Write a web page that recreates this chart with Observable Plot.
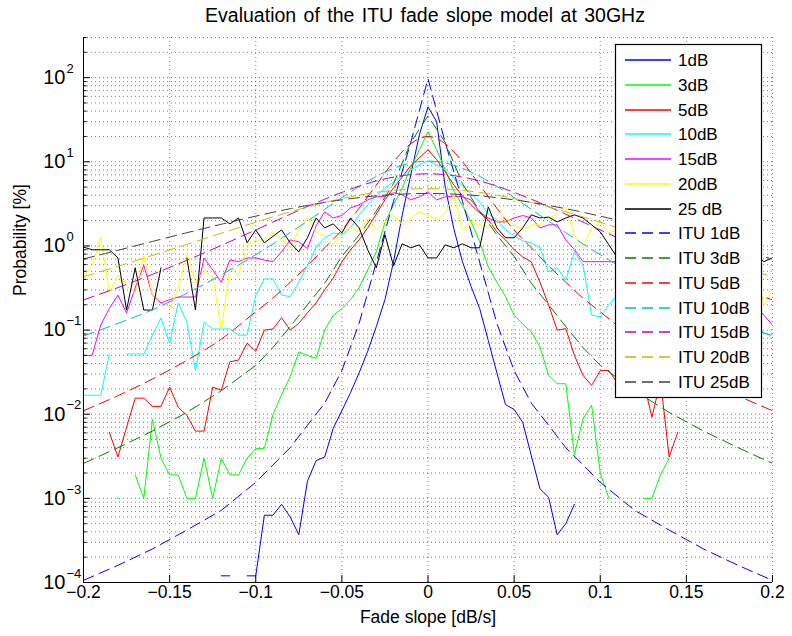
<!DOCTYPE html>
<html><head><meta charset="utf-8">
<script src="https://cdn.jsdelivr.net/npm/d3@7"></script>
<script src="https://cdn.jsdelivr.net/npm/@observablehq/plot@0.6"></script>
<style>
body{margin:0;background:#fff;font-family:"Liberation Sans",Arial,sans-serif;}
#wrap{position:relative;width:792px;height:636px;background:#fff;overflow:hidden}
#title{position:absolute;left:425px;top:0;transform:translateX(-50%);white-space:nowrap;font-size:19.5px;word-spacing:2px;line-height:30px;height:30px;padding-top:0px;color:#000}
#chart{position:absolute;left:0;top:30px}
</style></head><body>
<div id="wrap"><div id="title">Evaluation of the ITU fade slope model at 30GHz</div><div id="chart"></div></div>
<script>
// ---- measured fade-slope distributions (x step 0.005 dB/s), probability in %
const X = [-0.2,-0.195,-0.19,-0.185,-0.18,-0.175,-0.17,-0.165,-0.16,-0.155,
-0.15,-0.145,-0.14,-0.135,-0.13,-0.125,-0.12,-0.115,-0.11,-0.105,
-0.1,-0.095,-0.09,-0.085,-0.08,-0.075,-0.07,-0.065,-0.06,-0.055,
-0.05,-0.045,-0.04,-0.035,-0.03,-0.025,-0.02,-0.015,-0.01,-0.005,
0,
0.005,0.01,0.015,0.02,0.025,0.03,0.035,0.04,0.045,0.05,
0.055,0.06,0.065,0.07,0.075,0.08,0.085,0.09,0.095,0.1,
0.105,0.11,0.115,0.12,0.125,0.13,0.135,0.14,0.145,0.15,
0.155,0.16,0.165,0.17,0.175,0.18,0.185,0.19,0.195,0.2];

const M1 = [null,null,null,null,null,null,null,null,null,null,
null,null,null,null,null,null,1.2e-4,1.2e-4,null,1.2e-4,
1.2e-4,6.3e-4,6.3e-4,8.5e-4,6e-4,3.7e-4,1.6e-3,2.8e-3,3.1e-3,6.8e-3,
0.011,0.018,0.031,0.056,0.11,0.23,0.65,2.3,7,21,
45,
30,5,1.6,0.65,0.33,0.18,0.075,0.031,0.013,0.0114,
0.008,0.0032,0.0013,0.00103,0.00037,0.0005,0.00085,null,null,null,
null,null,null,null,null,null,null,null,null,null,
null,null,null,null,null,null,null,null,null,null];

const M3 = [null,null,null,null,0.001,null,0.0019,0.001,0.0087,0.003,
0.0019,0.0019,0.001,0.001,0.003,0.001,0.003,0.0019,0.0019,0.003,
0.0039,0.0039,0.0099,0.017,0.028,0.055,0.05,0.046,0.1,0.15,
0.18,0.23,0.32,0.52,0.85,1.9,3.1,4.9,8.5,13.9,
22.8,
13.9,8.0,4.5,3.0,1.93,1.12,0.56,0.37,0.25,0.15,
0.118,0.095,0.063,0.029,0.023,0.023,0.0033,0.0089,0.0128,0.002,
0.001,null,null,null,0.001,0.001,0.0019,0.003,null,null,
null,null,null,null,null,null,null,null,null,null];

const M5 = [null,null,null,0.0061,0.0031,0.007,0.0155,0.0155,0.0124,0.0124,
0.021,0.0121,0.0097,0.0063,0.0063,0.021,0.0193,0.042,0.044,0.07,
0.056,0.1,0.103,0.14,0.1,0.12,0.16,0.21,0.3,0.416,
0.645,0.9,1.18,1.64,2.4,3.53,4.9,6.6,9.0,11.2,
13.9,
10.6,7.6,5.3,3.94,3.08,2.47,2.04,1.47,1.18,0.9,
0.74,0.645,0.37,0.2,0.1,0.104,0.05,0.029,0.022,0.033,
0.033,0.0234,0.04,0.03,0.025,0.0092,0.025,0.0031,0.0061,null,
null,null,null,null,null,null,null,null,null,null];

const M10 = [0.0168,0.0168,0.0168,0.052,null,0.052,0.052,0.052,0.087,0.139,
0.07,0.21,0.124,0.033,0.124,0.103,0.103,0.103,0.087,0.087,
0.26,0.405,0.405,0.26,0.25,0.37,0.58,0.97,1.25,1.43,
1.36,1.64,2.34,3.08,3.9,4.9,5.78,6.8,8.0,9.2,
10.3,
9.2,8.0,6.45,5.18,4.16,3.34,2.4,2.04,1.55,1.32,
1.15,1.09,0.95,0.49,0.55,0.39,0.85,0.59,0.151,0.143,
0.2,0.26,0.3,0.35,0.3,0.25,0.3,0.2,0.25,0.3,
0.2,0.25,0.15,0.2,0.12,0.15,0.1,0.12,0.092,0.087];

const M15 = [0.05,0.05,0.115,0.18,0.26,0.16,0.316,0.59,0.26,0.21,
0.23,0.247,0.247,0.247,0.72,0.52,0.37,0.68,0.65,0.72,
0.72,0.68,0.65,0.85,1.18,1.12,0.93,1.73,2.54,2.15,
2.3,2.83,3.08,3.53,3.83,3.9,4.28,4.05,3.53,3.83,
4.4,
3.53,3.83,3.9,3.83,3.53,2.54,2.15,1.93,1.93,2.15,
2.3,2.15,1.64,1.78,1.78,1.18,0.9,0.65,0.65,0.65,
0.65,0.65,0.5,0.55,0.45,0.5,0.4,0.45,0.35,0.4,
0.3,0.35,0.3,0.25,0.3,0.2,0.25,0.2,0.15,0.115];

const M20 = [0.43,0.59,1.28,0.28,0.45,0.34,0.27,0.78,0.26,0.23,
0.18,0.316,0.82,0.36,0.52,0.43,0.1,0.55,0.45,1.03,
1.18,1.18,1.47,1.18,0.97,1.55,2.21,1.47,1.32,1.03,
1.47,1.64,1.47,2.15,1.55,1.93,2.34,1.78,2.15,2.54,
2.34,
2.04,2.47,4.05,1.55,1.93,1.78,1.7,1.93,2.15,1.78,
1.55,1.78,1.78,2.15,2.34,2.91,1.35,0.95,1.64,1.93,
1.43,1.55,1.2,1.4,1.0,1.3,0.9,1.1,0.8,1.0,
0.7,0.9,0.6,0.8,0.5,0.7,0.5,0.6,0.2,0.3];

const M25 = [0.97,0.9,0.9,0.9,0.72,0.173,0.55,0.173,0.173,0.55,
null,null,0.72,0.173,2.15,2.15,2.15,1.83,2.15,1.09,
1.55,1.09,1.3,1.55,1.09,0.85,1.25,2.15,1.64,1.83,
1.43,2.15,1.64,0.9,0.55,1.36,0.58,1.06,0.95,1.03,
0.72,
0.72,1.03,0.95,1.06,0.95,0.95,2.91,1.64,1.25,1.25,
1.64,2.34,2.15,2.2,1.93,2.15,2.34,2.15,1.78,1.47,
1.03,0.72,1.2,1.5,1.0,1.3,1.1,1.4,0.9,1.2,
1.0,1.1,0.8,1.0,0.9,0.8,0.7,0.8,0.65,0.72];

// ---- ITU model curves
const ITU_X = [-0.2,-0.18,-0.16,-0.14,-0.12,-0.1,-0.09,-0.08,-0.07,-0.06,-0.05,-0.04,-0.03,-0.02,-0.01,
0,0.01,0.02,0.03,0.04,0.05,0.06,0.07,0.08,0.09,0.1,0.12,0.14,0.16,0.18,0.2];
const ITU1 = [1.06e-4,1.6e-4,2.5e-4,4.2e-4,7.2e-4,1.55e-3,2.5e-3,4.0e-3,7.4e-3,0.0135,0.033,0.12,0.64,3.4,17,
97,17,3.4,0.64,0.12,0.033,0.0135,7.4e-3,4.0e-3,2.5e-3,1.55e-3,7.2e-4,4.2e-4,2.5e-4,1.6e-4,1.06e-4];
const ITU3 = [0.0026,0.004,0.0063,0.0105,0.019,0.038,0.062,0.11,0.2,0.36,0.75,1.35,2.6,5.5,17,
35,17,5.5,2.6,1.35,0.75,0.36,0.2,0.11,0.062,0.038,0.019,0.0105,0.0063,0.004,0.0026];
const ITU5 = [0.011,0.0166,0.0262,0.0437,0.078,0.165,0.24,0.37,0.58,0.95,1.54,2.8,5.3,10,16.4,
20,16.4,10,5.3,2.8,1.54,0.95,0.58,0.37,0.24,0.165,0.078,0.0437,0.0262,0.0166,0.011];
const ITU10 = [0.085,0.12,0.174,0.274,0.453,0.786,1.057,1.44,1.97,2.72,3.75,5.09,6.7,8.37,9.69,
10.2,9.69,8.37,6.7,5.09,3.75,2.72,1.97,1.44,1.057,0.786,0.453,0.274,0.174,0.12,0.085];
const ITU15 = [0.228,0.32,0.459,0.675,1.014,1.55,1.92,2.38,2.94,3.59,4.33,5.13,5.91,6.58,7.04,
7.2,7.04,6.58,5.91,5.13,4.33,3.59,2.94,2.38,1.92,1.55,1.014,0.675,0.459,0.32,0.228];
const ITU20 = [0.43,0.573,0.77,1.042,1.415,1.91,2.21,2.54,2.9,3.28,3.65,4.01,4.33,4.58,4.74,
4.8,4.74,4.58,4.33,4.01,3.65,3.28,2.9,2.54,2.21,1.91,1.415,1.042,0.77,0.573,0.43];
const ITU25 = [0.7,0.888,1.13,1.435,1.81,2.26,2.51,2.77,3.03,3.29,3.53,3.75,3.94,4.08,4.17,
4.2,4.17,4.08,3.94,3.75,3.53,3.29,3.03,2.77,2.51,2.26,1.81,1.435,1.13,0.888,0.7];

// ---- labels, ticks, colours
const LEGEND_LABELS = ["1dB","3dB","5dB","10dB","15dB","20dB","25 dB","ITU 1dB","ITU 3dB","ITU 5dB","ITU 10dB","ITU 15dB","ITU 20dB","ITU 25dB"];
const MEAS_COLORS = ["#0000ff","#00ff00","#ff0000","#00ffff","#ff00ff","#ffff00","#000000"];
const ITU_COLORS = ["#0000ff","#008000","#ff0000","#00bfbf","#bf00bf","#bfbf00","#404040"];
const X_TICKS = [-0.2,-0.15,-0.1,-0.05,0,0.05,0.1,0.15,0.2];
const X_TICK_LABELS = ["\u22120.2","\u22120.15","\u22120.1","\u22120.05","0","0.05","0.1","0.15","0.2"];
const Y_TICKS = [1e-4,1e-3,1e-2,1e-1,1,10,100];
const Y_TICK_EXP = ["\u22124","\u22123","\u22122","\u22121","0","1","2"];
const Y_TOP = 300;

const MEAS = [M1,M3,M5,M10,M15,M20,M25];
const ITU = [ITU1,ITU3,ITU5,ITU10,ITU15,ITU20,ITU25];

const yMinor = [];
Y_TICKS.forEach(d => { for (let k = 2; k <= 9; k++) { const v = d * k; if (v <= Y_TOP * 1.0001) yMinor.push(v); } });
const DASH = "11,6";
const FONT = "'Liberation Sans', Arial, Helvetica, sans-serif";

const marks = [];
// grid
marks.push(Plot.ruleY(yMinor.concat(Y_TICKS.slice(1)), {stroke: "#000", strokeOpacity: 0.5, strokeDasharray: "1,3"}));
marks.push(Plot.ruleX(X_TICKS.slice(1), {stroke: "#000", strokeOpacity: 0.5, strokeDasharray: "1,3"}));
// measured
MEAS.forEach((arr, s) => {
  const pts = X.map((x, i) => ({x, y: arr[i]}));
  marks.push(Plot.line(pts, {x: "x", y: "y", stroke: MEAS_COLORS[s], strokeWidth: 1, clip: true}));
  const iso = pts.filter((p, i) => p.y != null && (i === 0 || arr[i-1] == null) && (i === arr.length-1 || arr[i+1] == null));
  if (iso.length) marks.push(Plot.dot(iso, {x: "x", y: "y", r: 0.8, fill: MEAS_COLORS[s], stroke: null, clip: true}));
});
// ITU model
ITU.forEach((arr, s) => {
  const pts = ITU_X.map((x, i) => ({x, y: arr[i]}));
  marks.push(Plot.line(pts, {x: "x", y: "y", stroke: ITU_COLORS[s], strokeWidth: 1, strokeDasharray: DASH, curve: s < 2 ? "linear" : "monotone-x", clip: true}));
});
// axes
marks.push(Plot.ruleX([-0.2], {stroke: "#000"}));
marks.push(Plot.ruleY([1e-4], {stroke: "#000"}));
marks.push(Plot.axisX({ticks: X_TICKS, tickSize: -7, tickFormat: () => "", label: null}));
marks.push(Plot.axisY({ticks: Y_TICKS, tickSize: -7, tickFormat: () => "", label: null}));
marks.push(Plot.axisY({ticks: yMinor, tickSize: -3.5, tickFormat: () => "", label: null}));
marks.push(Plot.text(X_TICKS, {x: d => d, text: (d, i) => X_TICK_LABELS[i], frameAnchor: "bottom", dy: 15, fontSize: 17.5}));
marks.push(Plot.text(Y_TICKS, {y: d => d, text: () => "10", frameAnchor: "left", textAnchor: "end", dx: -18, fontSize: 20}));
marks.push(Plot.text(Y_TICKS, {y: d => d, text: (d, i) => Y_TICK_EXP[i], frameAnchor: "left", textAnchor: "start", dx: -17, dy: -9, fontSize: 13}));
marks.push(Plot.text(["Fade slope [dB/s]"], {text: d => d, frameAnchor: "bottom", dy: 40, fontSize: 17.5}));
marks.push(Plot.text(["Probability [%]"], {text: d => d, frameAnchor: "left", rotate: -90, dx: -63, dy: -14, fontSize: 17.5}));

const chart = Plot.plot({
  width: 792, height: 606,
  marginTop: 7, marginBottom: 54, marginLeft: 83, marginRight: 20,
  x: {type: "linear", domain: [-0.2, 0.2]},
  y: {type: "log", domain: [1e-4, Y_TOP]},
  style: {fontFamily: FONT, fontSize: "17px", background: "white", overflow: "visible", color: "#000"},
  marks
});

// legend box
const svg = d3.select(chart);
const lg = svg.append("g").attr("font-family", FONT).attr("font-size", 17).attr("fill", "#000").attr("text-anchor", "start");
lg.append("rect").attr("x", 615.5).attr("y", 14.5).attr("width", 146).attr("height", 353)
  .attr("fill", "#fff").attr("stroke", "#000").attr("stroke-width", 1.2);
LEGEND_LABELS.forEach((lab, k) => {
  const y = Math.round(30 + 24.75 * k);
  const meas = k < 7;
  const color = meas ? MEAS_COLORS[k] : ITU_COLORS[k - 7];
  const ln = lg.append("line").attr("x1", 625).attr("x2", 671).attr("y1", y).attr("y2", y)
    .attr("stroke", color).attr("stroke-width", 1.3);
  if (!meas) ln.attr("stroke-dasharray", DASH);
  lg.append("text").attr("x", 678).attr("y", y).attr("dy", "0.35em").attr("text-anchor", "start").attr("stroke", "none").text(lab);
});
document.getElementById("chart").appendChild(chart);
</script>
</body></html>
